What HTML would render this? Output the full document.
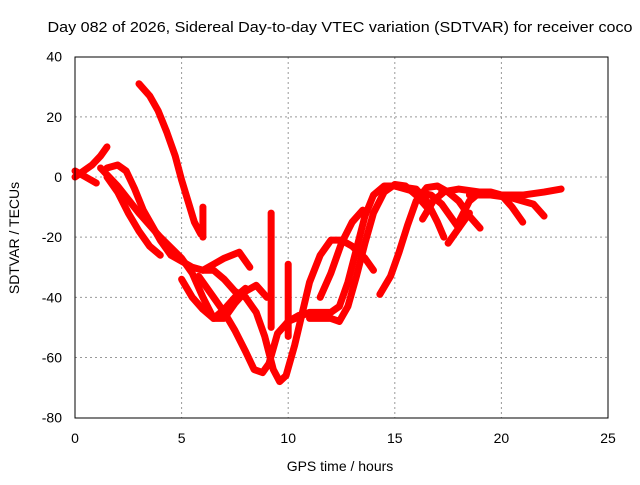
<!DOCTYPE html>
<html><head><meta charset="utf-8"><style>
body{margin:0;background:#fff;}
svg text{font-family:"Liberation Sans",sans-serif;font-size:14px;fill:#000;}
</style></head><body>
<svg id="c" width="640" height="480">
<text x="340" y="32" text-anchor="middle" textLength="585" lengthAdjust="spacingAndGlyphs" style="font-size:15px">Day 082 of 2026, Sidereal Day-to-day VTEC variation (SDTVAR) for receiver coco</text>
<text x="340" y="471" text-anchor="middle">GPS time / hours</text>
<text transform="translate(19,238) rotate(-90)" text-anchor="middle">SDTVAR / TECUs</text>
<g id="grid"></g><g id="series"></g>
<rect x="75" y="57" width="533" height="361" fill="none" stroke="#000"/>
</svg>
<script>
const xTicks=[0,5,10,15,20,25];
const yTicks=[40,20,0,-20,-40,-60,-80];
const tracks=[
[[0,0],[0.4,2],[0.8,4],[1.2,7],[1.5,10]],
[[0,2],[0.5,0],[1,-2]],
[[3,31],[3.5,27],[3.9,22],[4.3,15],[4.7,7],[5,-1],[5.3,-8],[5.6,-15],[5.9,-19]],
[[1.5,3],[2,4],[2.4,2],[2.8,-4],[3.2,-11],[3.6,-16],[4,-21],[4.5,-26],[5,-28],[5.5,-30],[6,-31],[6.5,-31],[7,-34],[7.5,-38],[8,-40]],
[[6,-31],[6.5,-29],[7,-27],[7.7,-25],[8.2,-30]],
[[1.5,0],[2,-5],[2.5,-12],[3,-18],[3.5,-23],[4,-26]],
[[1.2,3],[2,-3],[3,-12],[4,-20],[5,-27],[5.5,-32],[6,-40],[6.5,-47],[7,-47],[7.5,-42],[8,-38],[8.5,-36],[9,-40]],
[[5,-34],[5.5,-40],[6,-44],[6.5,-47],[7,-44],[7.5,-40],[8,-37]],
[[5.8,-33],[6.5,-40],[7,-45],[7.5,-51],[8,-58],[8.4,-64],[8.8,-65],[9.1,-62],[9.5,-52],[10,-48],[10.5,-46]],
[[8,-40],[8.5,-45],[8.9,-53],[9.3,-64],[9.6,-68],[9.9,-66],[10.3,-56],[10.7,-44],[11,-35],[11.5,-26],[12,-21],[12.5,-21],[13,-23],[13.6,-27],[14,-31]],
[[10,-48],[11,-45],[12,-45],[12.4,-43],[12.8,-35],[13.2,-24],[13.6,-13],[14,-6],[14.5,-3],[15,-3],[16,-5],[16.7,-6],[17.2,-9],[17.6,-13],[18,-17]],
[[11,-47],[12,-47],[12.4,-48],[12.8,-43],[13.2,-33],[13.6,-22],[14,-12],[14.5,-5],[15,-2.5],[15.5,-3],[16,-6],[16.5,-10]],
[[11.5,-40],[12,-32],[12.5,-22],[13,-15],[13.5,-11]],
[[14.3,-39],[14.8,-33],[15.2,-25],[15.6,-16],[16,-8],[16.5,-3.5],[17,-3],[17.5,-5],[18,-8],[18.5,-13],[19,-17]],
[[15,-3],[16,-4],[16.5,-8],[17,-15],[17.3,-20]],
[[16.3,-14],[16.8,-8],[17.3,-5]],
[[18,-15],[18.5,-8],[19,-5],[19.5,-5],[20,-6],[20.5,-10],[21,-15]],
[[17.2,-5],[18,-4],[19,-5],[20,-6],[21,-6],[22,-5],[22.8,-4]],
[[18.5,-6],[19.5,-6],[20.5,-7],[21.5,-9],[22,-13]],
[[17.5,-22],[18,-17],[18.5,-12]],
[[9.2,-50],[9.2,-12]],
[[10,-53],[10,-29]],
[[6,-10],[6,-20]]
];
const X=v=>75+v*533/25, Y=v=>177-v*361/120;
const NS="http://www.w3.org/2000/svg";
const grid=document.getElementById('grid'), ser=document.getElementById('series'), svg=document.getElementById('c');
xTicks.forEach(t=>{
  if(t>0&&t<25){const l=document.createElementNS(NS,'line');l.setAttribute('x1',X(t));l.setAttribute('x2',X(t));l.setAttribute('y1',57);l.setAttribute('y2',418);l.setAttribute('stroke','#999');l.setAttribute('stroke-dasharray','2,3');
  
  grid.appendChild(l);}
  const tx=document.createElementNS(NS,'text');tx.setAttribute('x',X(t));tx.setAttribute('y',443);tx.setAttribute('text-anchor','middle');tx.textContent=t;
  
  svg.appendChild(tx);
});
yTicks.forEach(t=>{
  if(t<40&&t>-80){const l=document.createElementNS(NS,'line');l.setAttribute('x1',75);l.setAttribute('x2',608);l.setAttribute('y1',Y(t));l.setAttribute('y2',Y(t));l.setAttribute('stroke','#999');l.setAttribute('stroke-dasharray','2,3');
  
  grid.appendChild(l);}
  const tx=document.createElementNS(NS,'text');tx.setAttribute('x',62);tx.setAttribute('y',Y(t)+5);tx.setAttribute('text-anchor','end');tx.textContent=t;
  
  svg.appendChild(tx);
});
tracks.forEach(tr=>{
  const p=document.createElementNS(NS,'polyline');
  p.setAttribute('points',tr.map(d=>X(d[0])+','+Y(d[1])).join(' '));
  p.setAttribute('fill','none');p.setAttribute('stroke','#f00');p.setAttribute('stroke-width','7');p.setAttribute('stroke-linejoin','round');p.setAttribute('stroke-linecap','round');
  
  
  ser.appendChild(p);
});
</script>
</body></html>
